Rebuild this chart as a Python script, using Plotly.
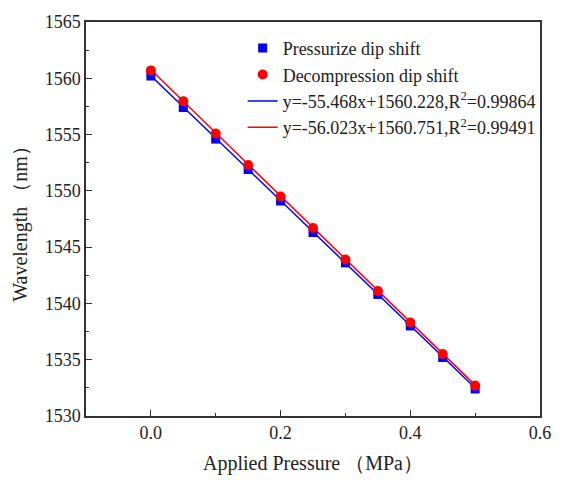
import plotly.graph_objects as go
import numpy as np

# Data
pressure = [0.0, 0.05, 0.10, 0.15, 0.20, 0.25, 0.30, 0.35, 0.40, 0.45, 0.50]
pressurize = [1560.2, 1557.4, 1554.6, 1551.9, 1549.1, 1546.3, 1543.6, 1540.8, 1538.0, 1535.2, 1532.4]
decompression = [1560.7, 1557.95, 1555.1, 1552.3, 1549.5, 1546.7, 1543.9, 1541.1, 1538.3, 1535.5, 1532.7]

# Linear fit coefficients shown in the legend
fit_slopes = [-55.468, -56.023]
fit_intercepts = [1560.228, 1560.751]
fit_r2 = ["0.99864", "0.99491"]

FONT = "Liberation Serif, Times New Roman, serif"

fig = go.Figure()

px = np.array(pressure)
colors = ["#0000ff", "#ff0000"]
for s, b, r2, c, rank in zip(fit_slopes, fit_intercepts, fit_r2, colors, [3, 4]):
    fig.add_trace(go.Scatter(
        x=pressure, y=list(s * px + b), mode="lines",
        name=f"y={s}x+{b},R<sup>2</sup>={r2}",
        line=dict(color=c, width=1.5), legendrank=rank))

fig.add_trace(go.Scatter(
    x=pressure, y=pressurize, mode="markers", name="Pressurize dip shift",
    marker=dict(symbol="square", size=9, color="#0000ff"), legendrank=1))
fig.add_trace(go.Scatter(
    x=pressure, y=decompression, mode="markers", name="Decompression dip shift",
    marker=dict(symbol="circle", size=10, color="#ff0000"), legendrank=2))

axis_common = dict(
    showgrid=False, zeroline=False, showline=True, linecolor="#333333", linewidth=1.5,
    mirror=True, ticks="inside", ticklen=6, tickwidth=1.2, tickcolor="#333333",
    tickfont=dict(family=FONT, size=18, color="#222222"),
)

fig.update_xaxes(
    range=[-0.1, 0.6], tickvals=[0.0, 0.2, 0.4, 0.6], ticktext=["0.0", "0.2", "0.4", "0.6"],
    minor=dict(dtick=0.1, tick0=0, ticks="inside", ticklen=3, tickcolor="#333333", showgrid=False),
    title=dict(text="Applied Pressure （MPa）", font=dict(family=FONT, size=20, color="#222222"), standoff=14),
    **axis_common)
fig.update_yaxes(
    range=[1530, 1565], dtick=5,
    minor=dict(dtick=2.5, ticks="inside", ticklen=3, tickcolor="#333333", showgrid=False),
    title=dict(text="Wavelength （nm）", font=dict(family=FONT, size=20, color="#222222"), standoff=12),
    **axis_common)

fig.update_layout(
    width=563, height=483,
    margin=dict(l=86, r=13, t=20, b=65),
    plot_bgcolor="white", paper_bgcolor="white",
    font=dict(family=FONT, size=18, color="#222222"),
    legend=dict(x=0.345, y=0.98, xanchor="left", yanchor="top",
                bgcolor="rgba(0,0,0,0)", font=dict(family=FONT, size=18, color="#222222"),
                tracegroupgap=0, itemwidth=30),
)

fig.write_html("out.html")
